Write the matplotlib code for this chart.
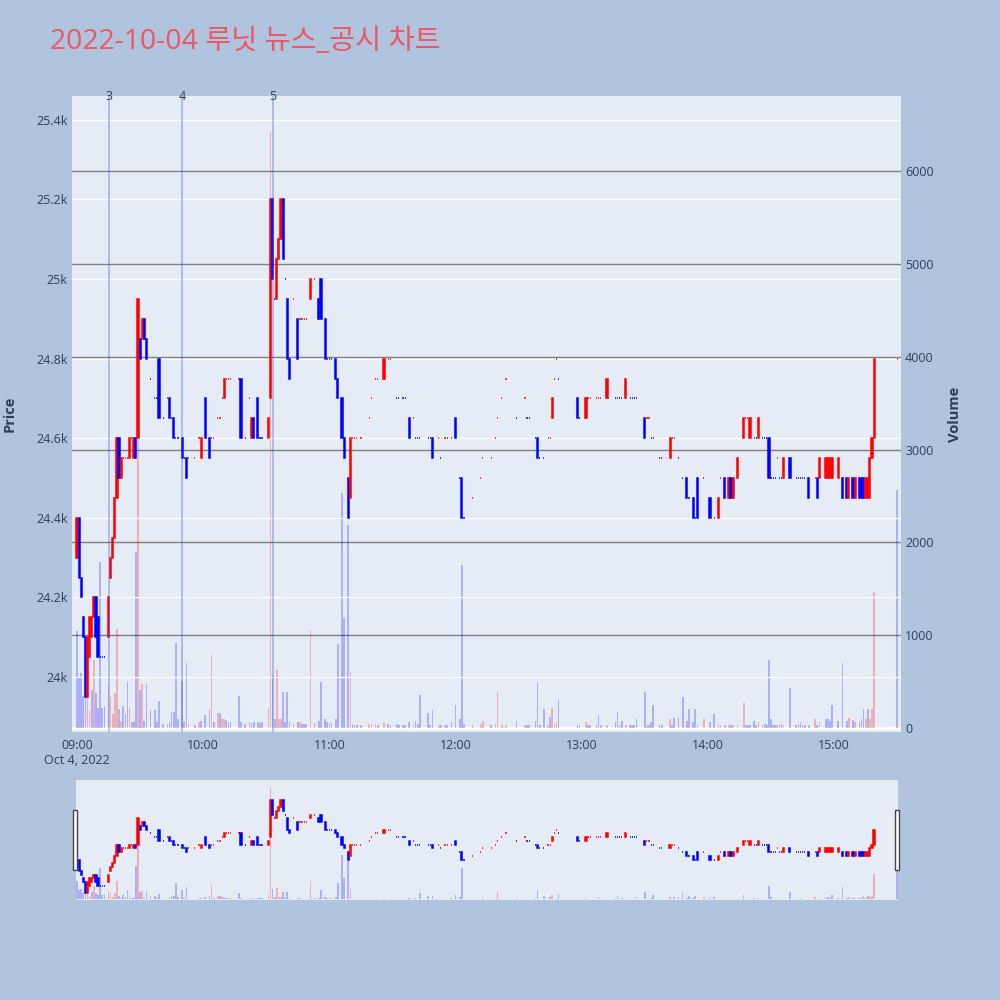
"""Minute candles + volume for Lunit on 2022-10-04, with news markers and a range slider."""

import matplotlib
matplotlib.use("Agg")
import matplotlib.pyplot as plt
import matplotlib.dates as mdates
from matplotlib.patches import Rectangle
import pandas as pd

plt.rcParams["font.family"] = ["Open Sans", "Noto Sans CJK KR", "DejaVu Sans"]

TITLE = "2022-10-04 루닛 뉴스_공시 차트"
SESSION_OPEN = "2022-10-04 09:00"

# minutes after the 09:00 open, one entry per traded minute
minutes = [
    # 09h
    0, 1, 2, 3, 4, 5, 6, 7, 8, 9, 10, 11, 12, 13,
    15, 16, 17, 18, 19, 20, 21, 22, 23, 24, 25, 26, 27, 28, 29, 30, 31, 32, 33,
    35, 37, 38, 39, 41, 43, 44, 45, 46, 47, 48, 50, 51, 52, 53, 56, 58, 59,
    # 10h
    61, 63, 64, 65, 67, 68, 69, 70, 71, 72, 73, 77, 78, 80, 82, 83, 84, 86, 87, 88,
    91, 92, 93, 94, 95, 96, 97, 98, 99, 100, 101, 103, 105, 106, 107, 108, 109,
    111, 113, 115, 116, 118, 119,
    # 11h
    120, 121, 123, 124, 126, 127, 129, 130, 131, 132, 133, 135, 139, 140, 142, 143,
    146, 148, 149, 152, 153, 155, 156, 158, 160, 161, 162, 163, 167, 168, 169, 172,
    173, 175, 176, 178,
    # 12h
    180, 182, 183, 184, 188, 192, 193, 197, 199, 200, 202, 204, 209, 213, 214, 215,
    218, 219, 220, 222, 224, 225, 226, 227, 228, 229, 238, 239,
    # 13h
    242, 243, 244, 247, 248, 249, 252, 256, 257, 258, 259, 261, 263, 264, 265, 266,
    270, 271, 272, 273, 274, 277, 278, 282, 283, 284, 286, 288, 290, 291, 293, 294,
    295, 298,
    # 14h
    301, 303, 305, 306, 308, 310, 311, 312, 314, 317, 318, 319, 320, 322, 323, 324,
    326, 327, 328, 329, 330, 331, 332, 333, 334, 335, 336, 339, 342, 343, 344, 345,
    346, 348, 351, 352, 353, 356, 357, 358, 359,
    # 15h
    362, 364, 366, 367, 369, 370, 372, 373, 374, 375, 376, 377, 378, 379, 390,
]

opens = [
    # 09h
    24300, 24400, 24250, 24150, 24100, 23950, 24050, 24100, 24150, 24200, 24150, 24050, 24050, 24050,
    24100, 24250, 24300, 24350, 24450, 24600, 24500, 24550, 24550, 24550, 24550, 24600, 24550, 24600,
    24600, 24850, 24850, 24900, 24850,
    24750, 24700, 24700, 24800, 24650, 24700, 24700, 24650, 24650, 24600, 24600, 24600, 24550, 24550,
    24550, 24550, 24600, 24550,
    # 10h
    24700, 24600, 24600, 24600, 24650, 24650, 24700, 24700, 24750, 24750, 24750, 24750, 24750, 24600,
    24700, 24600, 24650, 24700, 24600, 24600,
    24600, 24700, 25200, 24950, 24950, 25050, 25100, 25200, 25000, 24950, 24800, 24950, 24900, 24900,
    24900, 24900, 24900,
    24950, 25000, 24950, 25000, 24900, 24800,
    # 11h
    24800, 24800, 24800, 24750, 24700, 24600, 24500, 24450, 24600, 24600, 24600, 24600, 24650, 24700,
    24750, 24750, 24750, 24800, 24800, 24700, 24700, 24700, 24700, 24650, 24650, 24600, 24600, 24600,
    24600, 24600, 24600, 24600, 24550, 24600, 24600, 24600,
    # 12h
    24650, 24500, 24500, 24400, 24450, 24500, 24550, 24550, 24600, 24650, 24700, 24750, 24650, 24700,
    24650, 24650, 24600, 24600, 24550, 24550, 24600, 24600, 24650, 24750, 24800, 24750, 24700, 24650,
    # 13h
    24650, 24700, 24700, 24700, 24700, 24700, 24700, 24700, 24700, 24700, 24700, 24700, 24700, 24700,
    24700, 24700, 24650, 24650, 24650, 24600, 24600, 24550, 24550, 24550, 24600, 24600, 24550, 24500,
    24500, 24450, 24450, 24400, 24500, 24500,
    # 14h
    24450, 24400, 24400, 24500, 24500, 24450, 24500, 24450, 24500, 24600, 24650, 24650, 24600, 24600,
    24600, 24600, 24600, 24600, 24600, 24600, 24500, 24500, 24500, 24550, 24500, 24500, 24500, 24550,
    24500, 24500, 24500, 24500, 24500, 24500, 24500, 24500, 24500, 24500, 24500, 24500, 24500,
    # 15h
    24500, 24500, 24500, 24450, 24500, 24450, 24500, 24500, 24500, 24450, 24450, 24450, 24550,
    24600, 24800,
]

closes = [
    # 09h
    24400, 24250, 24200, 24100, 23950, 24100, 24150, 24150, 24200, 24100, 24050, 24050, 24050, 24050,
    24200, 24300, 24350, 24450, 24600, 24500, 24550, 24550, 24550, 24550, 24600, 24600, 24600, 24550,
    24950, 24800, 24900, 24850, 24800,
    24750, 24700, 24700, 24650, 24650, 24700, 24650, 24650, 24600, 24600, 24600, 24550, 24550, 24500,
    24550, 24550, 24600, 24600,
    # 10h
    24600, 24550, 24600, 24600, 24650, 24650, 24700, 24750, 24750, 24750, 24750, 24750, 24600, 24600,
    24700, 24650, 24600, 24600, 24600, 24600,
    24650, 25200, 25000, 24950, 25050, 25100, 25200, 25050, 25000, 24800, 24750, 24950, 24800, 24900,
    24900, 24900, 24900,
    25000, 25000, 24900, 24900, 24800, 24800,
    # 11h
    24800, 24800, 24750, 24700, 24600, 24550, 24400, 24600, 24600, 24600, 24600, 24600, 24650, 24700,
    24750, 24750, 24800, 24800, 24800, 24700, 24700, 24700, 24700, 24600, 24650, 24600, 24600, 24600,
    24600, 24600, 24550, 24600, 24550, 24600, 24600, 24600,
    # 12h
    24600, 24500, 24400, 24400, 24450, 24500, 24550, 24550, 24600, 24650, 24700, 24750, 24650, 24700,
    24650, 24650, 24600, 24550, 24550, 24550, 24600, 24600, 24700, 24750, 24800, 24750, 24650, 24650,
    # 13h
    24700, 24700, 24700, 24700, 24700, 24700, 24750, 24700, 24700, 24700, 24700, 24750, 24700, 24700,
    24700, 24700, 24600, 24650, 24650, 24600, 24600, 24550, 24550, 24600, 24600, 24600, 24550, 24500,
    24450, 24450, 24400, 24400, 24400, 24500,
    # 14h
    24400, 24400, 24450, 24500, 24450, 24500, 24450, 24500, 24550, 24650, 24650, 24650, 24650, 24600,
    24600, 24650, 24600, 24600, 24600, 24500, 24500, 24500, 24500, 24550, 24500, 24500, 24550, 24500,
    24500, 24500, 24500, 24500, 24500, 24450, 24500, 24450, 24550, 24550, 24550, 24550, 24550,
    # 15h
    24550, 24450, 24450, 24500, 24450, 24500, 24450, 24450, 24450, 24500, 24500, 24550, 24600,
    24800, 24800,
]

volumes = [
    # 09h
    1050, 550, 590, 340, 380, 375, 190, 410, 730, 380, 220, 1790, 220, 240,
    460, 330, 150, 380, 1066, 200, 80, 240, 150, 500, 220, 60, 60, 1900, 4000, 410, 470, 80, 470,
    190, 190, 60, 290, 40, 40, 60, 170, 170, 915, 100, 510, 60, 700, 40, 30, 60, 80,
    # 10h
    140, 190, 790, 70, 160, 160, 100, 100, 90, 60, 70, 340, 60, 40, 70, 50, 60, 60, 50, 60,
    215, 6425, 570, 100, 625, 100, 100, 390, 60, 390, 60, 40, 60, 60, 40, 40, 40,
    1055, 50, 80, 500, 100, 60,
    # 11h
    50, 50, 100, 900, 2530, 1190, 2190, 600, 40, 30, 30, 30, 40, 40, 40, 30,
    50, 40, 30, 40, 30, 30, 30, 60, 40, 80, 40, 355, 160, 30, 195, 30,
    30, 30, 30, 60,
    # 12h
    250, 100, 1760, 40, 30, 40, 80, 30, 40, 390, 30, 30, 80, 30, 30, 30,
    80, 500, 30, 205, 30, 120, 215, 40, 60, 300, 30, 30,
    # 13h
    60, 30, 30, 30, 140, 30, 30, 60, 170, 30, 80, 30, 30, 30, 30, 100,
    390, 30, 30, 60, 250, 30, 30, 100, 30, 110, 110, 335, 80, 205, 60, 205,
    30, 100,
    # 14h
    60, 150, 30, 30, 30, 30, 30, 30, 30, 270, 30, 30, 30, 80, 30, 60,
    30, 40, 30, 730, 100, 30, 30, 30, 30, 40, 30, 430, 30, 40, 60, 30,
    30, 30, 100, 30, 60, 100, 100, 80, 250,
    # 15h
    80, 700, 80, 110, 90, 60, 60, 100, 205, 100, 200, 100, 200, 1470, 2560,
]

news_times = ["09:15", "09:50", "10:33"]
news_labels = ["3", "4", "5"]

price_ticks = [24000, 24200, 24400, 24600, 24800, 25000, 25200, 25400]
price_tick_labels = ["24k", "24.2k", "24.4k", "24.6k", "24.8k", "25k", "25.2k", "25.4k"]
volume_ticks = [0, 1000, 2000, 3000, 4000, 5000, 6000]
hour_ticks = ["09:00", "10:00", "11:00", "12:00", "13:00", "14:00", "15:00"]

assert len(minutes) == len(opens) == len(closes) == len(volumes)

PAPER = "#B0C4DE"
PLOT_BG = "#E5ECF6"
FONT_COLOR = "#2a3f5f"
INC, DEC = "#FF0000", "#0000FF"
PRICE_RANGE = (23862, 25460)
VOL_RANGE = (-43, 6810)
MIN = 1.0 / 1440.0  # one minute in matplotlib date units

base = pd.Timestamp(SESSION_OPEN)
xs = mdates.date2num((base + pd.to_timedelta(minutes, unit="min")).to_pydatetime())
base_num = mdates.date2num(base.to_pydatetime())


def day_num(hhmm):
    return mdates.date2num(pd.Timestamp(f"2022-10-04 {hhmm}").to_pydatetime())


# plotly-style direction: flat candles take the direction of the move from the prior close
candle_colors = []
vol_colors = []
increasing = True
prev_close = None
for o, c in zip(opens, closes):
    if c != o:
        increasing = c > o
    elif prev_close is not None and c != prev_close:
        increasing = c > prev_close
    candle_colors.append(INC if increasing else DEC)
    vol_colors.append(INC if (prev_close is not None and c > prev_close) else DEC)
    prev_close = c

bottoms = [min(o, c) for o, c in zip(opens, closes)]
heights = [abs(c - o) for o, c in zip(opens, closes)]


def draw_series(ax_p, ax_v):
    ax_v.bar(xs, volumes, width=0.8 * MIN, color=vol_colors, alpha=0.25, linewidth=0)
    ax_p.bar(xs, heights, bottom=bottoms, width=0.55 * MIN, color=candle_colors,
             edgecolor=candle_colors, linewidth=1.1)


def strip(ax):
    for s in ax.spines.values():
        s.set_visible(False)


fig = plt.figure(figsize=(10, 10), dpi=100)
fig.patch.set_facecolor(PAPER)

# ---- main chart ----
axv = fig.add_axes([0.072, 0.268, 0.829, 0.636])
ax = axv.twinx()
ax.set_zorder(axv.get_zorder() + 1)
ax.patch.set_visible(False)
axv.set_facecolor(PLOT_BG)

axv.yaxis.tick_right()
axv.yaxis.set_label_position("right")
ax.yaxis.tick_left()
ax.yaxis.set_label_position("left")

xlim = (base_num - 2.38 * MIN, base_num + 391.8 * MIN)
for a in (ax, axv):
    a.set_xlim(*xlim)
    strip(a)

ax.set_ylim(*PRICE_RANGE)
axv.set_ylim(*VOL_RANGE)

for p in price_ticks:
    ax.axhline(p, color="white", linewidth=1.0, zorder=0)
for v in volume_ticks[1:]:
    axv.axhline(v, color="#808080", linewidth=1.0, zorder=0)
axv.axhline(0, color="white", linewidth=2.0, zorder=0.5)

draw_series(ax, axv)

for t, lab in zip(news_times, news_labels):
    xn = day_num(t)
    ax.axvline(xn, color="#3355ee", alpha=0.35, linewidth=1.3, zorder=5)
    ax.text(xn, PRICE_RANGE[1], lab, ha="center", va="center", fontsize=9,
            color=FONT_COLOR, zorder=6)

ax.set_yticks(price_ticks)
ax.set_yticklabels(price_tick_labels)
axv.set_yticks(volume_ticks)
axv.set_yticklabels([str(v) for v in volume_ticks])
ax.tick_params(axis="y", length=0, pad=3, labelsize=9, labelcolor=FONT_COLOR)
axv.tick_params(axis="y", length=0, pad=3, labelsize=9, labelcolor=FONT_COLOR)

xt = [day_num(h) for h in hour_ticks]
axv.set_xticks(xt)
axv.set_xticklabels([hour_ticks[0] + "\nOct 4, 2022"] + hour_ticks[1:])
axv.tick_params(axis="x", length=0, pad=5, labelsize=9, labelcolor=FONT_COLOR)
ax.tick_params(axis="x", length=0, labelbottom=False)

ax.set_ylabel("Price", fontsize=10.5, fontweight="bold", color=FONT_COLOR, labelpad=14)
axv.set_ylabel("Volume", fontsize=10.5, fontweight="bold", color=FONT_COLOR, labelpad=10)

fig.text(0.05, 0.958, TITLE, fontsize=20.4, color="#EE5566", ha="left", va="center")

# ---- range slider ----
sv = fig.add_axes([0.076, 0.100, 0.822, 0.120])
sp = sv.twinx()
sp.set_zorder(sv.get_zorder() + 1)
sp.patch.set_visible(False)
sv.set_facecolor(PLOT_BG)
for a in (sv, sp):
    a.set_xlim(base_num - 0.48 * MIN, base_num + 390.4 * MIN)
    strip(a)
    a.set_xticks([])
    a.set_yticks([])
sp.set_ylim(*PRICE_RANGE)
sv.set_ylim(*VOL_RANGE)
draw_series(sp, sv)

for left in (0.073, 0.895):
    fig.patches.append(Rectangle((left, 0.130), 0.004, 0.060, transform=fig.transFigure,
                                 facecolor="white", edgecolor="#444444", linewidth=1.0))

fig.savefig("out.png", dpi=100, facecolor=PAPER)
